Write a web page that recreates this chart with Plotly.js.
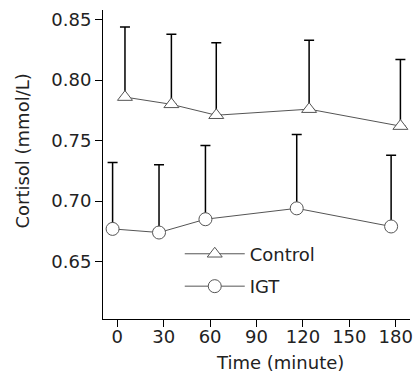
<!DOCTYPE html>
<html>
<head>
<meta charset="utf-8">
<script src="https://cdn.plot.ly/plotly-3.0.1.min.js"></script>
<style>html,body{margin:0;padding:0;background:#fff;}#chart{width:416px;height:376px;}</style>
</head>
<body>
<div id="chart"></div>
<script>
// Data (x positions are slightly jittered per group)
const controlTime = [5, 35, 64, 124, 183];
const controlMean = [0.786, 0.780, 0.771, 0.776, 0.762];
const controlErr  = [0.058, 0.058, 0.060, 0.057, 0.055];

const igtTime = [-3, 27, 57, 116, 177];
const igtMean = [0.677, 0.674, 0.685, 0.694, 0.679];
const igtErr  = [0.055, 0.056, 0.061, 0.061, 0.059];

const xTicks = [0, 30, 60, 90, 120, 150, 180];
const yTicks = [0.65, 0.70, 0.75, 0.80, 0.85];

const xTitle = 'Time (minute)';
const yTitle = 'Cortisol (mmol/L)';

const font = {family: 'DejaVu Sans, Verdana, sans-serif', size: 18, color: '#222'};
const zeros = a => a.map(() => 0);

const traces = [
  {
    x: controlTime, y: controlMean, name: 'Control', type: 'scatter', mode: 'lines+markers',
    legendgroup: 'c',
    line: {color: '#555', width: 1},
    marker: {symbol: 'triangle-up', size: 13, color: '#fff', line: {color: '#555', width: 1}},
    error_y: {type: 'data', symmetric: false, array: controlErr, arrayminus: zeros(controlErr),
              color: '#000', thickness: 1.5, width: 5}
  },
  {
    x: igtTime, y: igtMean, name: 'IGT', type: 'scatter', mode: 'lines+markers',
    legendgroup: 'i',
    line: {color: '#555', width: 1},
    marker: {symbol: 'circle', size: 13, color: '#fff', line: {color: '#555', width: 1}},
    error_y: {type: 'data', symmetric: false, array: igtErr, arrayminus: zeros(igtErr),
              color: '#000', thickness: 1.5, width: 5}
  }
];

const layout = {
  width: 416, height: 376,
  margin: {l: 103, r: 6, t: 10, b: 57},
  paper_bgcolor: '#fff', plot_bgcolor: '#fff',
  font: font,
  showlegend: true,
  legend: {x: 0.25, xanchor: 'left', y: 0.27, yanchor: 'top', bgcolor: 'rgba(0,0,0,0)',
           font: font, itemwidth: 60, traceorder: 'grouped', tracegroupgap: 6},
  xaxis: {
    range: [-9.2, 189.2], tickvals: xTicks, ticktext: xTicks.map(String),
    showline: true, linecolor: '#000', linewidth: 1, showgrid: false, zeroline: false,
    ticks: 'outside', ticklen: 7, tickcolor: '#000', tickfont: font, ticklabelstandoff: -6
  },
  yaxis: {
    range: [0.6025, 0.858], tickvals: yTicks, ticktext: yTicks.map(v => v.toFixed(2)),
    showline: true, linecolor: '#000', linewidth: 1, showgrid: false, zeroline: false,
    ticks: 'outside', ticklen: 7, tickcolor: '#000', tickfont: font
  },
  annotations: [
    {text: xTitle, xref: 'paper', yref: 'paper', x: 0.577, y: -0.142,
     xanchor: 'center', yanchor: 'middle', showarrow: false, font: font},
    {text: yTitle, xref: 'paper', yref: 'paper', x: -0.2606, y: 0.545, textangle: -90,
     xanchor: 'center', yanchor: 'middle', showarrow: false, font: font}
  ]
};

Plotly.newPlot('chart', traces, layout, {displayModeBar: false, staticPlot: true});
</script>
</body>
</html>
